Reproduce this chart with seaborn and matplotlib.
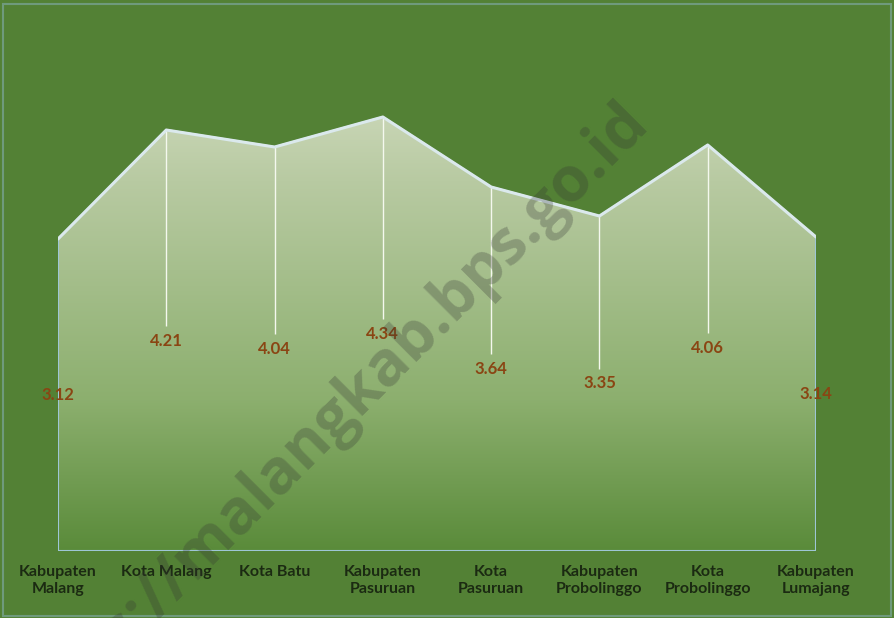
import numpy as np
import pandas as pd
import matplotlib.pyplot as plt
import seaborn as sns
from matplotlib.colors import LinearSegmentedColormap
from matplotlib.patches import Polygon, Rectangle

# data
regions = ['Kabupaten\nMalang', 'Kota Malang', 'Kota Batu', 'Kabupaten\nPasuruan',
           'Kota\nPasuruan', 'Kabupaten\nProbolinggo', 'Kota\nProbolinggo', 'Kabupaten\nLumajang']
values = [3.12, 4.21, 4.04, 4.34, 3.64, 3.35, 4.06, 3.14]

df = pd.DataFrame({'region': regions, 'value': values})
df['pos'] = np.arange(len(df))

bg = '#538135'
sns.set_theme(style='white', rc={'axes.facecolor': bg, 'figure.facecolor': bg})
plt.rcParams['font.family'] = ['Lato', 'DejaVu Sans']

fig = plt.figure(figsize=(8.94, 6.18), dpi=100)
ax = fig.add_axes([58 / 894, 67 / 618, 758 / 894, 500 / 618])
n = len(df)
ymax = 5.0

# area polygon with gradient fill
verts = [(0, 0)] + list(zip(df['pos'], df['value'])) + [(n - 1, 0)]
area = Polygon(verts, closed=True, facecolor='none', edgecolor='#9ec6d6', lw=1.5, zorder=3)
ax.add_patch(area)

top = 4.4
grad_cmap = LinearSegmentedColormap.from_list(
    'grad', [(0.0, '#5a8b3a'), (1.5 / top, '#8caf6e'), (3.7 / top, '#b8caa2'), (1.0, '#c9d6b6')])
grad = np.linspace(0, 1, 256).reshape(-1, 1)
im = ax.imshow(grad, extent=[0, n - 1, 0, top], origin='lower', aspect='auto',
               cmap=grad_cmap, zorder=1)
im.set_clip_path(area)

# top line
sns.lineplot(data=df, x='pos', y='value', color='#dbe9ec', lw=2.2, ax=ax, zorder=4)

# drop lines (white) from point down to above the label
inner = df.iloc[1:-1]
ax.vlines(inner['pos'], inner['value'] / 2 + 0.15, inner['value'], color='#f4f8ee', lw=1.0, zorder=2)

# value labels
for p, v in zip(df['pos'], df['value']):
    ax.text(p, v / 2, f'{v:.2f}', ha='center', va='center', color='#8a4513',
            fontsize=12, fontweight='bold', zorder=5)

ax.set_xlim(0, n - 1)
ax.set_ylim(0, ymax)
ax.set_xticks(df['pos'])
ax.set_xticklabels(df['region'], fontsize=11.5, fontweight='bold', color='#1b2a12',
                   linespacing=1.3, va='top')
ax.tick_params(axis='x', length=0, pad=10)
ax.set_yticks([])
ax.set_xlabel('')
ax.set_ylabel('')
for s in ax.spines.values():
    s.set_visible(False)

# watermark
fig.text(327 / 894, 1 - 424 / 618, 'https://malangkab.bps.go.id', rotation=45,
         fontsize=45, fontweight='bold', family=['Open Sans', 'DejaVu Sans'],
         color='#333333', alpha=0.28, ha='center', va='center', rotation_mode='anchor', zorder=10)

# chart border
fig.patches.append(Rectangle((0.003, 0.003), 0.994, 0.991, transform=fig.transFigure,
                             fill=False, ec='#6f9a7c', lw=1.5))

fig.savefig('out.png', dpi=100, facecolor=bg)
